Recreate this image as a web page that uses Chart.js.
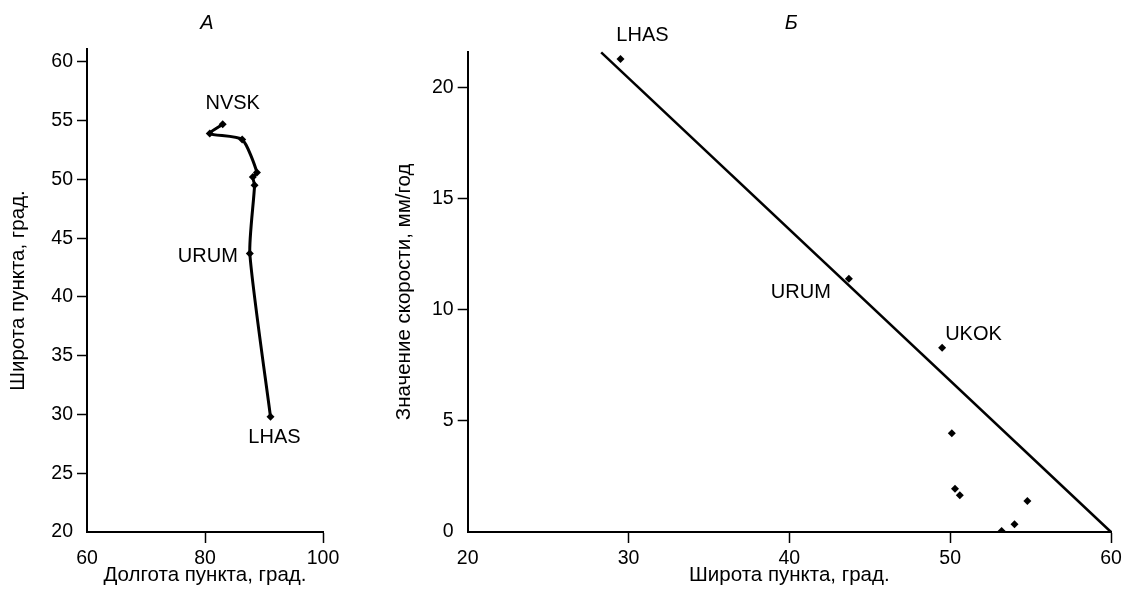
<!DOCTYPE html>
<html><head><meta charset="utf-8">
<script src="https://cdn.jsdelivr.net/npm/chart.js@4"></script>
<style>
html,body{margin:0;padding:0;background:#fff;width:1126px;height:596px;overflow:hidden}
#wa{position:absolute;left:0;top:0;width:350px;height:596px}
#wb{position:absolute;left:360px;top:0;width:766px;height:596px}
</style></head><body>
<div id="wa"><canvas id="ca"></canvas></div>
<div id="wb"><canvas id="cb"></canvas></div>
<script>
// Panel А: station longitude / latitude (sorted by latitude)
const lonA = [91.1, 87.6, 88.4, 88.1, 88.8, 86.3, 80.8, 83.0];
const latA = [29.8, 43.7, 49.5, 50.2, 50.6, 53.4, 53.9, 54.7];
const namesA = ['LHAS', 'URUM', '', '', '', '', '', 'NVSK'];
const xTicksA = [60, 80, 100];
const yTicksA = [20, 25, 30, 35, 40, 45, 50, 55, 60];

// Panel Б: latitude vs velocity
const latB = [29.5, 43.7, 49.5, 50.1, 50.3, 50.6, 54.8, 54.0, 53.2];
const velB = [21.3, 11.4, 8.3, 4.45, 1.95, 1.65, 1.4, 0.35, 0.05];
const namesB = ['LHAS', 'URUM', 'UKOK', '', '', '', '', '', ''];
const trendX = [28.3, 60];
const trendY = [21.6, 0];
const xTicksB = [20, 30, 40, 50, 60];
const yTicksB = [0, 5, 10, 15, 20];

const FAM = "'Liberation Sans', Arial, Helvetica, sans-serif";
const pts = (xs, ys) => xs.map((x, i) => ({x: x, y: ys[i]}));

// label placement styles (pixel offsets from the data point)
const labelStyleA = {
  LHAS: {dx: 4, dy: 21, align: 'center'},
  URUM: {dx: -12, dy: 3, align: 'right'},
  NVSK: {dx: 10, dy: -21, align: 'center'}
};
const labelStyleB = {
  LHAS: {dx: 22, dy: -24, align: 'center'},
  URUM: {dx: -18, dy: 14, align: 'right'},
  UKOK: {dx: 3, dy: -13, align: 'left'}
};

function labelPlugin(xs, ys, names, styles, title) {
  return {
    id: 'labels',
    afterDatasetsDraw(chart) {
      const ctx = chart.ctx, sx = chart.scales.x, sy = chart.scales.y;
      ctx.save();
      ctx.fillStyle = '#000';
      ctx.textBaseline = 'middle';
      ctx.font = '20px ' + FAM;
      names.forEach((n, i) => {
        if (!n) return;
        const st = styles[n];
        ctx.textAlign = st.align;
        ctx.fillText(n, sx.getPixelForValue(xs[i]) + st.dx, sy.getPixelForValue(ys[i]) + st.dy);
      });
      ctx.font = 'italic 20px ' + FAM;
      ctx.textAlign = 'center';
      ctx.fillText(title, (chart.chartArea.left + chart.chartArea.right) / 2 + 2, 23);
      ctx.restore();
    }
  };
}

function scaleX(min, max, ticks, title) {
  return {
    type: 'linear', min: min, max: max,
    afterBuildTicks: s => { s.ticks = ticks.map(v => ({value: v})); },
    afterFit: s => { s.height = 64; },
    ticks: {color: '#000', font: {size: 19.5, family: FAM}, padding: 4, maxRotation: 0, autoSkip: false},
    grid: {display: true, drawOnChartArea: false, drawTicks: true, tickLength: 11, tickWidth: 1.5,
           tickColor: c => c.index === 0 ? 'rgba(0,0,0,0)' : '#000'},
    border: {display: true, color: '#000', width: 2},
    title: {display: true, text: title, color: '#000', font: {size: 20.5, family: FAM}, padding: {top: 0, bottom: 8}}
  };
}
function scaleY(min, max, ticks, title, w, tpad) {
  return {
    type: 'linear', min: min, max: max,
    afterBuildTicks: s => { s.ticks = ticks.map(v => ({value: v})); },
    afterFit: s => { s.width = w; },
    ticks: {color: '#000', font: {size: 19.5, family: FAM}, padding: 4, autoSkip: false},
    grid: {display: true, drawOnChartArea: false, drawTicks: true, tickLength: 10, tickWidth: 1.5,
           tickColor: c => c.index === 0 ? 'rgba(0,0,0,0)' : '#000'},
    border: {display: true, color: '#000', width: 2},
    title: {display: true, text: title, color: '#000', font: {size: 20.5, family: FAM}, padding: {top: tpad, bottom: 0}}
  };
}

const common = {
  responsive: true, maintainAspectRatio: false, animation: false,
  plugins: {legend: {display: false}, tooltip: {enabled: false}, title: {display: false}}
};

new Chart(document.getElementById('ca'), {
  type: 'scatter',
  data: {datasets: [{
    data: pts(lonA, latA), showLine: true, tension: 0.2,
    borderColor: '#000', borderWidth: 3, backgroundColor: '#000',
    pointStyle: 'rectRot', pointRadius: 4, pointBorderWidth: 0
  }]},
  options: Object.assign({}, common, {
    layout: {padding: {top: 49, right: 27, left: 0, bottom: 0}},
    scales: {
      x: scaleX(60, 100, xTicksA, 'Долгота пункта, град.'),
      y: scaleY(20, 61.1, yTicksA, 'Широта пункта, град.', 87, 6)
    }
  }),
  plugins: [labelPlugin(lonA, latA, namesA, labelStyleA, 'А')]
});

new Chart(document.getElementById('cb'), {
  type: 'scatter',
  data: {datasets: [
    {data: pts(latB, velB), backgroundColor: '#000', borderColor: '#000',
     pointStyle: 'rectRot', pointRadius: 4, pointBorderWidth: 0},
    {data: pts(trendX, trendY), showLine: true, borderColor: '#000', borderWidth: 2.5,
     pointRadius: 0, clip: false}
  ]},
  options: Object.assign({}, common, {
    layout: {padding: {top: 51.7, right: 15, left: 0, bottom: 0}},
    scales: {
      x: scaleX(20, 60, xTicksB, 'Широта пункта, град.'),
      y: scaleY(0, 21.63, yTicksB, 'Значение скорости, мм/год', 107.7, 32.5)
    }
  }),
  plugins: [labelPlugin(latB, velB, namesB, labelStyleB, 'Б')]
});
</script>
</body></html>
